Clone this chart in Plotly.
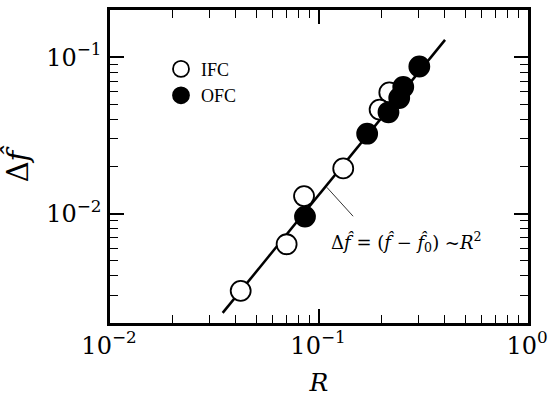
import plotly.graph_objects as go
import numpy as np

# Data
ifc_R = [0.217, 0.195, 0.1306, 0.0848, 0.070, 0.0422]
ifc_df = [0.0595, 0.0462, 0.01945, 0.01294, 0.00637, 0.00321]
ofc_R = [0.302, 0.253, 0.242, 0.215, 0.170, 0.0857]
ofc_df = [0.0871, 0.0644, 0.0548, 0.0444, 0.0324, 0.00957]
fit_R = [0.0346, 0.401]
fit_df = [0.00232, 0.1288]
pointer_R = [0.109, 0.1456]
pointer_df = [0.01473, 0.00962]

x_tickvals = [0.01, 0.1, 1]
x_ticktext = ["10<sup>−2</sup>", "10<sup>−1</sup>", "10<sup>0</sup>"]
y_tickvals = [0.01, 0.1]
y_ticktext = ["10<sup>−2</sup>", "10<sup>−1</sup>"]

fig = go.Figure()
fig.add_trace(go.Scatter(x=fit_R, y=fit_df, mode="lines",
                         line=dict(color="black", width=2.5), showlegend=False))
fig.add_trace(go.Scatter(x=pointer_R, y=pointer_df, mode="lines",
                         line=dict(color="black", width=0.8), showlegend=False))
fig.add_trace(go.Scatter(x=ifc_R, y=ifc_df, mode="markers", name="IFC",
                         marker=dict(size=20, color="white",
                                     line=dict(color="black", width=1.8))))
fig.add_trace(go.Scatter(x=ofc_R, y=ofc_df, mode="markers", name="OFC",
                         marker=dict(size=20, color="black",
                                     line=dict(color="black", width=1.8))))

axis_common = dict(
    type="log", showgrid=False, zeroline=False, automargin=False,
    showline=True, linecolor="black", linewidth=2.5, mirror="allticks",
    ticks="inside", ticklen=14, tickwidth=1.8, tickcolor="black",
    minor=dict(ticks="inside", ticklen=8, tickwidth=1.3, tickcolor="black",
               dtick="D1", showgrid=False),
    tickfont=dict(family="DejaVu Serif", size=24, color="black"),
)

fig.update_xaxes(**axis_common, range=[-2, 0],
                 tickvals=x_tickvals, ticktext=x_ticktext,
                 ticklabelstandoff=-1, ticklabelshift=-1,
                 title=dict(text="<i>R</i>", font=dict(family="DejaVu Serif", size=25, color="black"),
                            standoff=20))
fig.update_yaxes(**axis_common, range=[np.log10(0.002), np.log10(0.2)],
                 tickvals=y_tickvals, ticktext=y_ticktext, ticklabelstandoff=1,
                 title=dict(text="Δ<i>f̂</i>", font=dict(family="DejaVu Serif", size=29, color="black"),
                            standoff=20))

fig.add_annotation(x=-0.583, y=-2.183, xref="x", yref="y",
                   text="Δ<i>f̂</i> = (<i>f̂</i> − <i>f̂</i><sub>0</sub>) ~<i>R</i><sup>2</sup>",
                   showarrow=False, xanchor="center", yanchor="middle",
                   font=dict(family="DejaVu Serif", size=18, color="black"))

fig.update_layout(
    width=550, height=397,
    margin=dict(l=110, r=22, t=10, b=74, autoexpand=False),
    paper_bgcolor="white", plot_bgcolor="white",
    legend=dict(x=0.122, y=0.87, xanchor="left", yanchor="top",
                bgcolor="rgba(0,0,0,0)", itemsizing="trace",
                font=dict(family="Liberation Serif", size=18, color="black"),
                tracegroupgap=0),
)

fig.write_html("out.html", config={"displayModeBar": False},
               post_script="document.body.style.margin='0';")
